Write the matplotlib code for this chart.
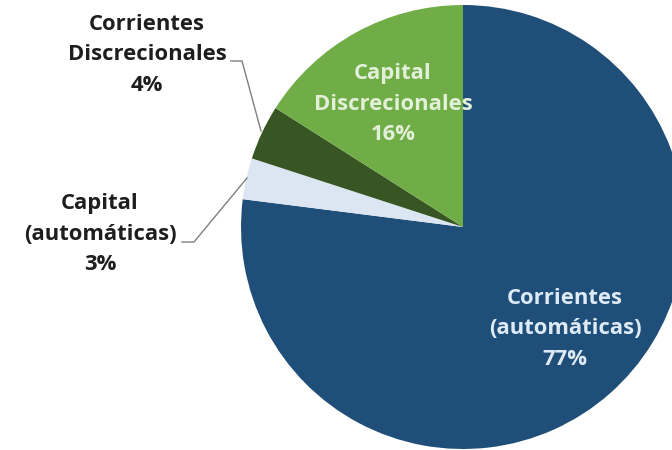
import matplotlib.pyplot as plt

# Data
labels = ['Corrientes\n(automáticas)', 'Capital\n(automáticas)',
          'Corrientes\nDiscrecionales', 'Capital\nDiscrecionales']
shares = [77, 3, 4, 16]
colors = ['#1F4E79', '#DCE6F2', '#375623', '#70AD47']
text_colors = ['#DEEBF7', '#1E1E1E', '#1E1E1E', '#E2F0D9']

W, H = 672, 450
CX, CY, R = 463, 227, 222   # pie centre / radius in pixels


def to_data(px, py):
    return (px - CX) / R, (CY - py) / R


fig = plt.figure(figsize=(W / 100, H / 100), dpi=100)
fig.patch.set_facecolor('white')
ax = fig.add_axes([(CX - R) / W, (H - CY - R) / H, 2 * R / W, 2 * R / H])
ax.pie(shares, colors=colors, startangle=90, counterclock=False,
       wedgeprops=dict(linewidth=0), radius=1)
ax.set_xlim(-1, 1)
ax.set_ylim(-1, 1)
ax.set_aspect('equal')
ax.axis('off')

font = dict(family=['Open Sans', 'DejaVu Sans'], fontsize=15.8, fontweight='bold',
            ha='center', va='center', linespacing=1.58)

# label positions (pixel centres)
label_pos = [(565, 329), (100, 234), (147, 55), (393, 104)]
for lab, val, pos, tc in zip(labels, shares, label_pos, text_colors):
    x, y = to_data(*pos)
    ax.text(x, y, f'{lab}\n{val}%', color=tc, clip_on=False, **font)

# leader lines
leaders = [
    [(231, 61), (242, 61), (261, 131)],
    [(182, 242), (194, 242), (247, 178)],
]
for pts in leaders:
    xs, ys = zip(*[to_data(px, py) for px, py in pts])
    ax.plot(xs, ys, color='#7F7F7F', linewidth=1.0, clip_on=False)

fig.savefig('out.png', dpi=100)
